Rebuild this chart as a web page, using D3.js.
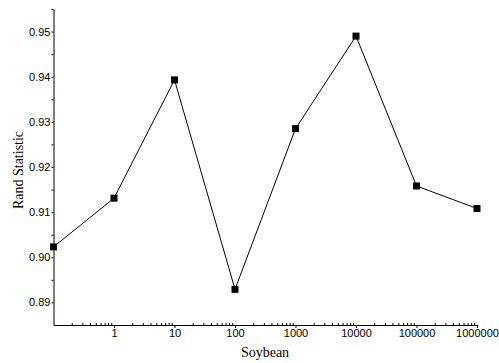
<!DOCTYPE html>
<html>
<head>
<meta charset="utf-8">
<script src="https://cdn.jsdelivr.net/npm/d3@7"></script>
<style>
  body { margin: 0; background: #fff; }
  svg { display: block; }
  .tick text { font-family: "Liberation Sans", Arial, sans-serif; font-size: 11px; fill: #000; }
  .axis-title { font-family: "Liberation Serif", "Times New Roman", serif; font-size: 14px; fill: #000; }
</style>
</head>
<body>
<div id="chart"></div>
<script>
// chart data
const xValues = [0.1, 1, 10, 100, 1000, 10000, 100000, 1000000];
const randStat = [0.9023, 0.9131, 0.9393, 0.8929, 0.9285, 0.9490, 0.9158, 0.9108];
const xTickLabels = [1, 10, 100, 1000, 10000, 100000, 1000000];
const yTickLabels = [0.89, 0.90, 0.91, 0.92, 0.93, 0.94, 0.95];

function lineChart() {
  const W = 499, H = 363;
  const margin = { top: 9, right: 22, bottom: 38, left: 53.5 };
  const width = W - margin.left - margin.right,
    height = H - margin.top - margin.bottom;

  const xScale = d3.scaleLog().domain([0.1, 1000000]).range([0, width]);
  const yScale = d3.scaleLinear().domain([0.885, 0.955]).range([height, 0]);

  const svg = d3.select("#chart").append("svg")
    .attr("width", W).attr("height", H)
    .append("g")
    .attr("transform", "translate(" + margin.left + "," + margin.top + ")");

  // minor ticks on x (log 2..9)
  const minor = [];
  for (let dec = 0.1; dec < 1000000; dec *= 10) {
    for (let k = 2; k <= 9; k++) minor.push(dec * k);
  }
  svg.append("g")
    .attr("transform", "translate(0," + height + ")")
    .call(d3.axisBottom(xScale).tickValues(minor).tickSize(-2).tickFormat(""))
    .call(g => g.select(".domain").remove());

  svg.append("g")
    .attr("transform", "translate(0," + height + ")")
    .call(d3.axisBottom(xScale).tickValues(xTickLabels).tickSize(3).tickSizeOuter(0).tickPadding(1)
      .tickFormat(d3.format("d")));

  // minor ticks on y
  svg.append("g")
    .call(d3.axisLeft(yScale).tickValues(yTickLabels.map(v => v + 0.005)).tickSize(2).tickFormat(""))
    .call(g => g.select(".domain").remove());

  svg.append("g")
    .call(d3.axisLeft(yScale).tickValues(yTickLabels).tickSize(2).tickSizeOuter(0).tickPadding(1)
      .tickFormat(d3.format(".2f")));

  svg.selectAll(".domain").attr("stroke", "#000");
  svg.selectAll(".tick line").attr("stroke", "#000");

  const data = xValues.map((x, i) => [x, randStat[i]]);

  svg.append("path")
    .datum(data)
    .attr("fill", "none")
    .attr("stroke", "#000")
    .attr("stroke-width", 1)
    .attr("d", d3.line().x(d => xScale(d[0])).y(d => yScale(d[1])));

  svg.selectAll(".pt")
    .data(data)
    .enter().append("rect")
    .attr("class", "pt")
    .attr("x", d => xScale(d[0]) - 3.5)
    .attr("y", d => yScale(d[1]) - 3.5)
    .attr("width", 7)
    .attr("height", 7)
    .attr("fill", "#000");

  svg.append("text")
    .attr("class", "axis-title")
    .attr("text-anchor", "middle")
    .attr("x", 265 - margin.left)
    .attr("y", height + 32)
    .text("Soybean");

  svg.append("text")
    .attr("class", "axis-title")
    .attr("text-anchor", "middle")
    .attr("transform", "translate(" + (23 - margin.left) + "," + (170 - margin.top) + ") rotate(-90)")
    .text("Rand Statistic");
}

lineChart();
</script>
</body>
</html>
